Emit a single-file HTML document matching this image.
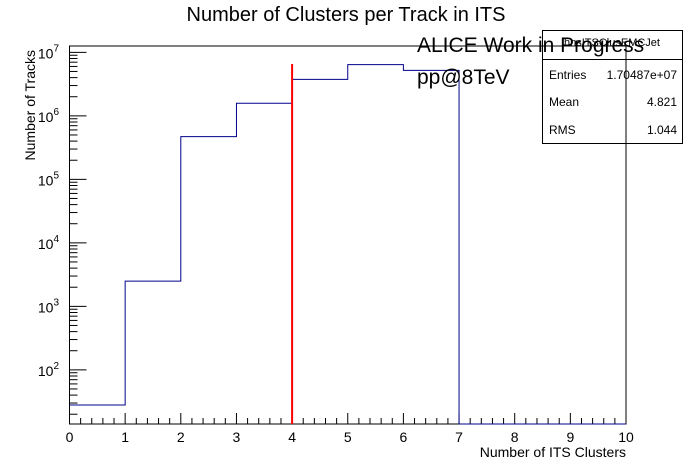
<!DOCTYPE html>
<html><head><meta charset="utf-8"><style>
body{margin:0;background:#fff;}
svg{display:block;font-family:"Liberation Sans",sans-serif;}
</style></head><body>
<svg id="c" width="696" height="472">
<text x="346" y="21" font-size="20" text-anchor="middle">Number of Clusters per Track in ITS</text>
<g id="axes"></g>
<g id="marks"></g>
<text x="626" y="457" font-size="14" text-anchor="end">Number of ITS Clusters</text>
<text transform="translate(35,50) rotate(-90)" font-size="14" text-anchor="end">Number of Tracks</text>
<text x="417" y="52" font-size="21">ALICE Work in Progress</text>
<text x="417" y="84" font-size="21">pp@8TeV</text>
<g>
<rect x="542.5" y="30.5" width="140" height="113" fill="#fff" fill-opacity="0" stroke="#000"/>
<line x1="542.5" y1="59.5" x2="682.5" y2="59.5" stroke="#000"/>
<text x="612" y="46" font-size="11" text-anchor="middle">hnsITSClusEMCJet</text>
<text x="549" y="79" font-size="12">Entries</text><text x="677" y="79" font-size="12" text-anchor="end">1.70487e+07</text>
<text x="549" y="106" font-size="12">Mean</text><text x="677" y="106" font-size="12" text-anchor="end">4.821</text>
<text x="549" y="134" font-size="12">RMS</text><text x="677" y="134" font-size="12" text-anchor="end">1.044</text>
</g>
</svg>
<script>
const binEdges=[0,1,2,3,4,5,6,7,8,9,10];
const counts=[28,2500,470000,1580000,3760000,6400000,5200000,0,0,0];
const xTicks=[0,1,2,3,4,5,6,7,8,9,10];
const yDecades=[2,3,4,5,6,7];
const cutValue=[4];
const NS="http://www.w3.org/2000/svg";
const X0=69.5,X1=626,Y0=424,Y1=46,LMIN=1.147,LMAX=7.1;
const xs=v=>X0+(v-0)/(10-0)*(X1-X0);
const ys=v=>v<=0?Y0:Y0-(Math.log10(v)-LMIN)/(LMAX-LMIN)*(Y0-Y1);
const ax=document.getElementById('axes'),mk=document.getElementById('marks');
function mkEl(t,a,p){const e=document.createElementNS(NS,t);for(const k in a)e.setAttribute(k,a[k]);p.appendChild(e);return e;}
const fr=mkEl('rect',{x:X0,y:Y1,width:X1-X0,height:Y0-Y1,fill:'none',stroke:'#000'},ax);


for(let i=0;i<=50;i++){const v=i/5;const x=xs(v);const L=i%5==0?11:6;
 const t=mkEl('line',{x1:x,y1:Y0,x2:x,y2:Y0-L,stroke:'#000'},ax);
 
 }
xTicks.forEach(v=>{const t=mkEl('text',{x:xs(v),y:Y0+18,'font-size':14,'text-anchor':'middle'},ax);t.textContent=v;
 
 });
for(let d=1;d<=7;d++){for(let m=1;m<10;m++){const v=m*Math.pow(10,d);const y=ys(v);if(y>Y0||y<Y1)continue;
 const t=mkEl('line',{x1:X0,y1:y,x2:X0+(m==1?17:8),y2:y,stroke:'#000'},ax);
 
 }}
yDecades.forEach(d=>{const y=ys(Math.pow(10,d));const t=mkEl('text',{x:59,y:y+6,'font-size':14,'text-anchor':'end'},ax);
 t.innerHTML='10<tspan dy="-7" font-size="10">'+d+'</tspan>';
 
 });
let d='M'+xs(binEdges[0])+' '+ys(counts[0]);
counts.forEach((c,i)=>{const y=ys(c);d+=' L'+xs(binEdges[i])+' '+y+' L'+xs(binEdges[i+1])+' '+y;if(i<counts.length-1)d+=' L'+xs(binEdges[i+1])+' '+ys(counts[i+1]);});
const h=mkEl('path',{d:d,fill:'none',stroke:'#00008b','stroke-width':1},mk);


const cl=mkEl('line',{x1:xs(cutValue[0]),y1:Y0,x2:xs(cutValue[0]),y2:64,stroke:'#f00','stroke-width':2},mk);


</script>
</body></html>
